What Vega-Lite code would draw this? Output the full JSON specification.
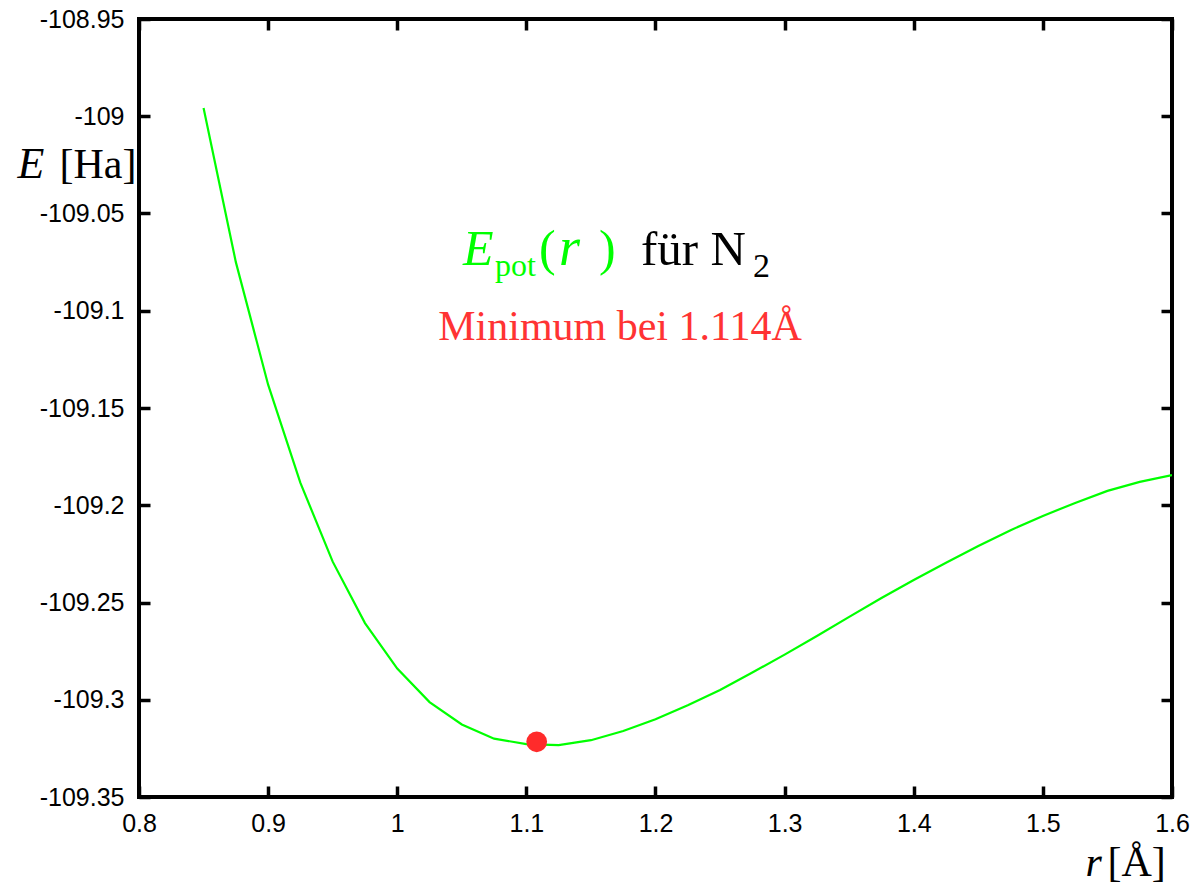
{
  "$schema": "https://vega.github.io/schema/vega-lite/v6.json",
  "width": 1033,
  "height": 778,
  "autosize": "none",
  "padding": {"left": 139, "top": 19, "right": 27, "bottom": 87},
  "background": "white",
  "config": {
    "view": {"stroke": "black", "strokeWidth": 4},
    "axis": {
      "domain": false,
      "grid": false,
      "tickSize": -11,
      "tickWidth": 3.5,
      "tickColor": "black",
      "labelFont": "Liberation Sans",
      "labelFontSize": 25,
      "labelColor": "black",
      "labelFlush": false,
      "labelOverlap": false,
      "titleFont": "Liberation Serif",
      "titleFontSize": 42,
      "titleFontWeight": "normal",
      "titleColor": "black",
      "titleAngle": 0,
      "titleBaseline": "alphabetic",
      "titleAlign": "left"
    }
  },
  "resolve": {"axis": {"x": "independent", "y": "independent"}},
  "layer": [
    {
      "data": {"values": [
        {"r": 0.85, "E": -108.9958},
        {"r": 0.875, "E": -109.075},
        {"r": 0.9, "E": -109.138},
        {"r": 0.925, "E": -109.1885},
        {"r": 0.95, "E": -109.229},
        {"r": 0.975, "E": -109.2606},
        {"r": 1.0, "E": -109.2840},
        {"r": 1.025, "E": -109.3012},
        {"r": 1.05, "E": -109.3127},
        {"r": 1.075, "E": -109.3200},
        {"r": 1.1, "E": -109.3228},
        {"r": 1.125, "E": -109.3233},
        {"r": 1.15, "E": -109.3208},
        {"r": 1.175, "E": -109.3161},
        {"r": 1.2, "E": -109.3100},
        {"r": 1.225, "E": -109.3028},
        {"r": 1.25, "E": -109.2950},
        {"r": 1.275, "E": -109.2860},
        {"r": 1.3, "E": -109.2768},
        {"r": 1.325, "E": -109.2672},
        {"r": 1.35, "E": -109.2574},
        {"r": 1.375, "E": -109.2477},
        {"r": 1.4, "E": -109.2384},
        {"r": 1.425, "E": -109.2296},
        {"r": 1.45, "E": -109.2210},
        {"r": 1.475, "E": -109.2128},
        {"r": 1.5, "E": -109.2055},
        {"r": 1.525, "E": -109.1988},
        {"r": 1.55, "E": -109.1926},
        {"r": 1.575, "E": -109.1880},
        {"r": 1.6, "E": -109.1845}
      ]},
      "mark": {"type": "line", "color": "#00ff00", "strokeWidth": 2.2, "clip": true},
      "encoding": {
        "x": {
          "field": "r", "type": "quantitative",
          "scale": {"domain": [0.8, 1.6], "nice": false, "zero": false},
          "axis": {
            "orient": "bottom",
            "values": [0.8, 0.9, 1.0, 1.1, 1.2, 1.3, 1.4, 1.5, 1.6],
            "format": "~g",
            "labelExpr": "replace(datum.label, '\u2212', '-')",
            "labelPadding": 25,
            "title": "r",
            "titleFontStyle": "italic",
            "titleX": 946,
            "titleY": 78
          }
        },
        "y": {
          "field": "E", "type": "quantitative",
          "scale": {"domain": [-109.35, -108.95], "nice": false, "zero": false},
          "axis": {
            "orient": "left",
            "values": [-108.95, -109.0, -109.05, -109.1, -109.15, -109.2, -109.25, -109.3, -109.35],
            "format": "~g",
            "labelExpr": "replace(datum.label, '\u2212', '-')",
            "labelPadding": 26,
            "title": "E",
            "titleFontStyle": "italic",
            "titleFontSize": 44,
            "titleX": -122,
            "titleY": 158
          }
        }
      }
    },
    {
      "data": {"values": [{"r": 1.108, "E": -109.3216}]},
      "mark": {"type": "point", "filled": true, "opacity": 1, "color": "#ff2b2b", "size": 430, "shape": "circle"},
      "encoding": {
        "x": {
          "field": "r", "type": "quantitative",
          "scale": {"domain": [0.8, 1.6], "nice": false, "zero": false},
          "axis": {
            "orient": "top",
            "values": [0.8, 0.9, 1.0, 1.1, 1.2, 1.3, 1.4, 1.5, 1.6],
            "labels": false,
            "title": "[Å]",
            "titleX": 968,
            "titleY": 856
          }
        },
        "y": {
          "field": "E", "type": "quantitative",
          "scale": {"domain": [-109.35, -108.95], "nice": false, "zero": false},
          "axis": {
            "orient": "right",
            "values": [-108.95, -109.0, -109.05, -109.1, -109.15, -109.2, -109.25, -109.3, -109.35],
            "labels": false,
            "title": "[Ha]",
            "titleX": -1113,
            "titleY": 158
          }
        }
      }
    },
    {
      "data": {"values": [{"r": 1.0525, "E": -109.0765, "t": "E"}]},
      "mark": {"type": "text", "align": "left", "baseline": "alphabetic", "font": "Liberation Serif", "fontStyle": "italic", "fontSize": 50, "color": "#00ff00", "dx": -2},
      "encoding": {"x": {"field": "r", "type": "quantitative", "axis": null}, "y": {"field": "E", "type": "quantitative", "axis": null}, "text": {"field": "t"}}
    },
    {
      "data": {"values": [{"r": 1.0525, "E": -109.0765, "t": "pot"}]},
      "mark": {"type": "text", "align": "left", "baseline": "alphabetic", "font": "Liberation Serif", "fontSize": 32, "color": "#00ff00", "dx": 30, "dy": 11},
      "encoding": {"x": {"field": "r", "type": "quantitative", "axis": null}, "y": {"field": "E", "type": "quantitative", "axis": null}, "text": {"field": "t"}}
    },
    {
      "data": {"values": [{"r": 1.0525, "E": -109.0765, "t": "("}]},
      "mark": {"type": "text", "align": "left", "baseline": "alphabetic", "font": "Liberation Serif", "fontSize": 50, "color": "#00ff00", "dx": 74},
      "encoding": {"x": {"field": "r", "type": "quantitative", "axis": null}, "y": {"field": "E", "type": "quantitative", "axis": null}, "text": {"field": "t"}}
    },
    {
      "data": {"values": [{"r": 1.0525, "E": -109.0765, "t": "r"}]},
      "mark": {"type": "text", "align": "left", "baseline": "alphabetic", "font": "Liberation Serif", "fontStyle": "italic", "fontSize": 54, "color": "#00ff00", "dx": 94},
      "encoding": {"x": {"field": "r", "type": "quantitative", "axis": null}, "y": {"field": "E", "type": "quantitative", "axis": null}, "text": {"field": "t"}}
    },
    {
      "data": {"values": [{"r": 1.0525, "E": -109.0765, "t": ")"}]},
      "mark": {"type": "text", "align": "left", "baseline": "alphabetic", "font": "Liberation Serif", "fontSize": 50, "color": "#00ff00", "dx": 134},
      "encoding": {"x": {"field": "r", "type": "quantitative", "axis": null}, "y": {"field": "E", "type": "quantitative", "axis": null}, "text": {"field": "t"}}
    },
    {
      "data": {"values": [{"r": 1.0525, "E": -109.0765, "t": "für N"}]},
      "mark": {"type": "text", "align": "left", "baseline": "alphabetic", "font": "Liberation Serif", "fontSize": 49, "color": "black", "dx": 176},
      "encoding": {"x": {"field": "r", "type": "quantitative", "axis": null}, "y": {"field": "E", "type": "quantitative", "axis": null}, "text": {"field": "t"}}
    },
    {
      "data": {"values": [{"r": 1.0525, "E": -109.0765, "t": "2"}]},
      "mark": {"type": "text", "align": "left", "baseline": "alphabetic", "font": "Liberation Serif", "fontSize": 34, "color": "black", "dx": 288, "dy": 12},
      "encoding": {"x": {"field": "r", "type": "quantitative", "axis": null}, "y": {"field": "E", "type": "quantitative", "axis": null}, "text": {"field": "t"}}
    },
    {
      "data": {"values": [{"r": 1.1725, "E": -109.115, "t": "Minimum bei 1.114Å"}]},
      "mark": {"type": "text", "align": "center", "baseline": "alphabetic", "font": "Liberation Serif", "fontSize": 42, "color": "#ff3333"},
      "encoding": {"x": {"field": "r", "type": "quantitative", "axis": null}, "y": {"field": "E", "type": "quantitative", "axis": null}, "text": {"field": "t"}}
    }
  ]
}
